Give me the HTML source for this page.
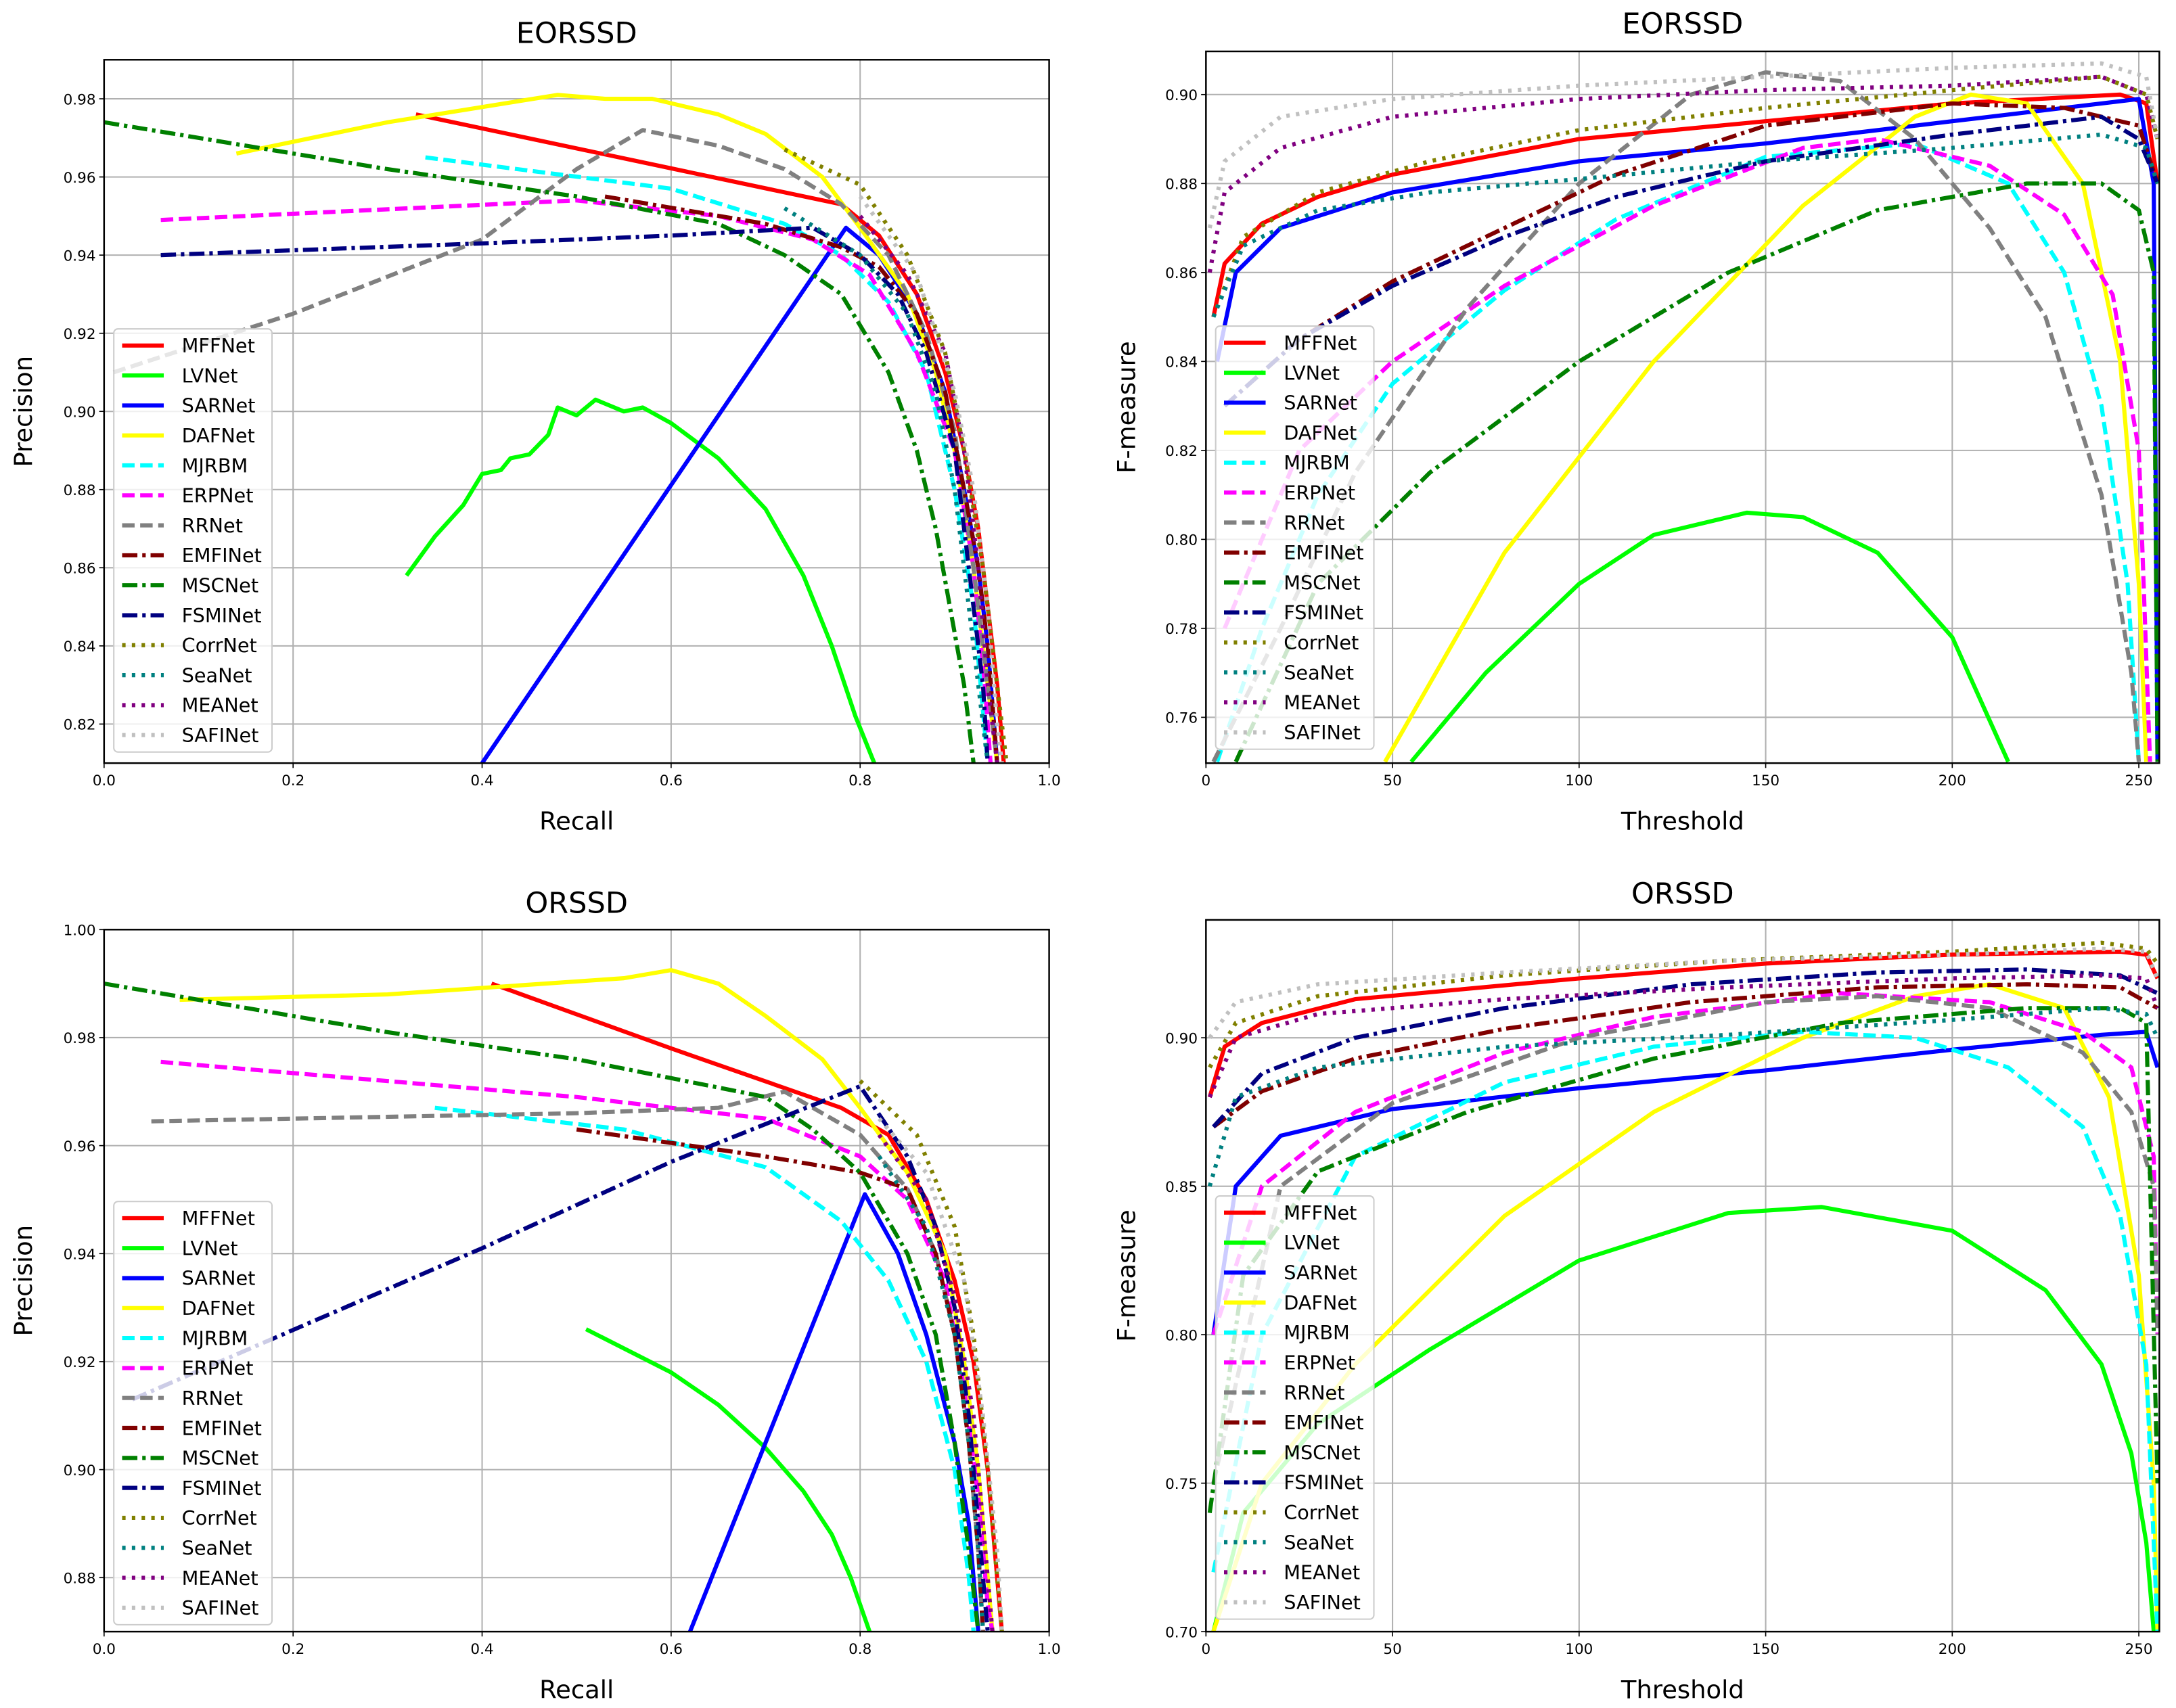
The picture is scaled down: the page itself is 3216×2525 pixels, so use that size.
<!DOCTYPE html>
<html><head><meta charset="utf-8"><style>
html,body{margin:0;padding:0;background:#fff;}
svg{display:block;}
text{font-family:"DejaVu Sans","Liberation Sans",sans-serif;}
</style></head><body>
<svg id="fig" width="3216" height="2525" viewBox="0 0 1568 1231" xmlns="http://www.w3.org/2000/svg">
<rect width="1568" height="1231" fill="#fff"/>
</svg>
<script>
const seriesNames = ["MFFNet","LVNet","SARNet","DAFNet","MJRBM","ERPNet","RRNet","EMFINet","MSCNet","FSMINet","CorrNet","SeaNet","MEANet","SAFINet"];
const seriesColors = ["#ff0000","#00ff00","#0000ff","#ffff00","#00ffff","#ff00ff","#808080","#800000","#008000","#000080","#808000","#008080","#800080","#c0c0c0"];
const seriesStyles = ["solid","solid","solid","solid","dash","dash","dash","dashdot","dashdot","dashdot","dot","dot","dot","dot"];

// Panel 1: EORSSD PR curves [recall, precision]
const prEORSSD = [
 [[0.33,0.976],[0.78,0.953],[0.82,0.945],[0.86,0.93],[0.89,0.91],[0.91,0.89],[0.925,0.87],[0.935,0.85],[0.945,0.83],[0.952,0.81]],
 [[0.32,0.858],[0.35,0.868],[0.38,0.876],[0.40,0.884],[0.42,0.885],[0.43,0.888],[0.45,0.889],[0.47,0.894],[0.48,0.901],[0.50,0.899],[0.52,0.903],[0.53,0.902],[0.55,0.900],[0.57,0.901],[0.60,0.897],[0.65,0.888],[0.70,0.875],[0.74,0.858],[0.77,0.840],[0.795,0.822],[0.815,0.81]],
 [[0.40,0.81],[0.785,0.947],[0.82,0.94],[0.86,0.925],[0.89,0.905],[0.91,0.88],[0.925,0.86],[0.935,0.84],[0.945,0.81]],
 [[0.14,0.966],[0.30,0.974],[0.48,0.981],[0.53,0.980],[0.58,0.980],[0.65,0.976],[0.70,0.971],[0.76,0.960],[0.80,0.947],[0.85,0.93],[0.88,0.91],[0.90,0.89],[0.92,0.86],[0.935,0.83],[0.945,0.81]],
 [[0.34,0.965],[0.60,0.957],[0.72,0.948],[0.78,0.94],[0.83,0.928],[0.87,0.91],[0.90,0.88],[0.92,0.85],[0.935,0.81]],
 [[0.06,0.949],[0.50,0.954],[0.65,0.950],[0.75,0.944],[0.81,0.935],[0.86,0.915],[0.90,0.89],[0.92,0.86],[0.932,0.83],[0.938,0.81]],
 [[0.01,0.91],[0.20,0.925],[0.40,0.944],[0.50,0.962],[0.57,0.972],[0.65,0.968],[0.72,0.962],[0.78,0.953],[0.83,0.94],[0.87,0.92],[0.90,0.895],[0.92,0.86],[0.935,0.83],[0.945,0.81]],
 [[0.53,0.955],[0.70,0.948],[0.78,0.942],[0.82,0.937],[0.86,0.925],[0.89,0.905],[0.91,0.88],[0.925,0.86],[0.935,0.84],[0.945,0.81]],
 [[0.0,0.974],[0.30,0.962],[0.50,0.955],[0.65,0.948],[0.72,0.940],[0.78,0.930],[0.83,0.91],[0.86,0.89],[0.88,0.87],[0.895,0.85],[0.91,0.83],[0.92,0.81]],
 [[0.06,0.940],[0.40,0.943],[0.60,0.945],[0.75,0.947],[0.80,0.94],[0.84,0.93],[0.87,0.915],[0.90,0.89],[0.915,0.86],[0.93,0.83],[0.935,0.81]],
 [[0.72,0.967],[0.80,0.958],[0.85,0.94],[0.89,0.915],[0.91,0.89],[0.93,0.86],[0.945,0.83],[0.955,0.81]],
 [[0.72,0.952],[0.80,0.94],[0.85,0.925],[0.88,0.905],[0.90,0.88],[0.915,0.85],[0.925,0.83],[0.935,0.81]],
 [[0.80,0.95],[0.85,0.935],[0.89,0.915],[0.91,0.89],[0.925,0.86],[0.935,0.83],[0.945,0.81]],
 [[0.80,0.955],[0.86,0.935],[0.90,0.905],[0.92,0.88],[0.935,0.85],[0.945,0.82],[0.95,0.81]]
];
// Panel 2: EORSSD F-measure vs threshold
const fmEORSSD = [
 [[2,0.85],[5,0.862],[15,0.871],[30,0.877],[50,0.882],[100,0.89],[150,0.894],[200,0.898],[245,0.900],[252,0.898],[255,0.88]],
 [[55,0.75],[75,0.77],[100,0.79],[120,0.801],[145,0.806],[160,0.805],[180,0.797],[200,0.778],[215,0.75]],
 [[3,0.84],[8,0.86],[20,0.870],[50,0.878],[100,0.885],[150,0.889],[200,0.894],[240,0.898],[250,0.899],[254,0.88],[255,0.75]],
 [[48,0.75],[80,0.797],[120,0.84],[160,0.875],[190,0.895],[205,0.90],[220,0.898],[235,0.88],[245,0.84],[250,0.79],[252,0.75]],
 [[3,0.75],[15,0.78],[30,0.81],[50,0.835],[80,0.856],[110,0.872],[150,0.886],[190,0.889],[215,0.88],[230,0.86],[240,0.83],[247,0.79],[250,0.75]],
 [[5,0.78],[25,0.82],[50,0.84],[80,0.857],[120,0.875],[160,0.888],[180,0.89],[210,0.884],[230,0.873],[243,0.855],[250,0.82],[253,0.75]],
 [[2,0.75],[20,0.78],[40,0.815],[70,0.852],[100,0.88],[130,0.90],[150,0.905],[170,0.903],[190,0.89],[210,0.87],[225,0.85],[240,0.81],[248,0.77],[250,0.75]],
 [[5,0.83],[25,0.845],[50,0.858],[80,0.87],[110,0.882],[150,0.893],[200,0.898],[230,0.897],[250,0.893],[255,0.88]],
 [[8,0.75],[30,0.79],[60,0.815],[100,0.84],[140,0.86],[180,0.874],[220,0.88],[240,0.88],[250,0.874],[254,0.86],[255,0.75]],
 [[5,0.83],[25,0.845],[50,0.857],[80,0.868],[110,0.877],[150,0.885],[200,0.891],[240,0.895],[250,0.89],[255,0.88]],
 [[2,0.85],[10,0.868],[30,0.878],[60,0.885],[100,0.892],[150,0.897],[200,0.901],[240,0.904],[252,0.90],[255,0.89]],
 [[2,0.85],[10,0.866],[30,0.874],[60,0.878],[100,0.881],[150,0.885],[200,0.888],[240,0.891],[252,0.888],[255,0.88]],
 [[1,0.86],[5,0.878],[20,0.888],[50,0.895],[100,0.899],[150,0.901],[200,0.902],[240,0.904],[252,0.90],[255,0.89]],
 [[1,0.87],[5,0.885],[20,0.895],[50,0.899],[100,0.902],[150,0.904],[200,0.906],[240,0.907],[252,0.904],[255,0.89]]
];
// Panel 3: ORSSD PR curves
const prORSSD = [
 [[0.41,0.990],[0.60,0.978],[0.78,0.967],[0.83,0.962],[0.87,0.95],[0.90,0.935],[0.92,0.92],[0.935,0.90],[0.945,0.88],[0.95,0.87]],
 [[0.51,0.926],[0.60,0.918],[0.65,0.912],[0.70,0.904],[0.74,0.896],[0.77,0.888],[0.79,0.88],[0.81,0.87]],
 [[0.62,0.87],[0.805,0.951],[0.84,0.94],[0.87,0.925],[0.90,0.905],[0.915,0.89],[0.925,0.87]],
 [[0.08,0.987],[0.30,0.988],[0.55,0.991],[0.60,0.9925],[0.65,0.990],[0.70,0.984],[0.76,0.976],[0.80,0.967],[0.85,0.955],[0.89,0.94],[0.91,0.92],[0.925,0.90],[0.935,0.88],[0.94,0.87]],
 [[0.35,0.967],[0.55,0.963],[0.70,0.956],[0.78,0.946],[0.83,0.935],[0.87,0.92],[0.90,0.90],[0.915,0.88],[0.92,0.87]],
 [[0.06,0.9755],[0.50,0.969],[0.70,0.965],[0.80,0.958],[0.85,0.95],[0.89,0.935],[0.91,0.915],[0.925,0.895],[0.935,0.875],[0.94,0.87]],
 [[0.05,0.9645],[0.50,0.966],[0.65,0.967],[0.72,0.970],[0.80,0.962],[0.85,0.952],[0.88,0.94],[0.90,0.925],[0.915,0.905],[0.925,0.885],[0.93,0.87]],
 [[0.50,0.963],[0.70,0.958],[0.80,0.955],[0.85,0.952],[0.88,0.94],[0.90,0.925],[0.915,0.905],[0.925,0.885],[0.93,0.87]],
 [[0.0,0.990],[0.30,0.981],[0.50,0.976],[0.70,0.969],[0.75,0.963],[0.80,0.955],[0.85,0.94],[0.88,0.925],[0.90,0.905],[0.915,0.885],[0.925,0.87]],
 [[0.03,0.913],[0.40,0.941],[0.60,0.957],[0.80,0.971],[0.85,0.958],[0.88,0.945],[0.90,0.93],[0.915,0.91],[0.925,0.89],[0.935,0.87]],
 [[0.80,0.972],[0.86,0.962],[0.90,0.945],[0.92,0.925],[0.935,0.90],[0.945,0.88],[0.95,0.87]],
 [[0.82,0.958],[0.87,0.945],[0.90,0.925],[0.915,0.905],[0.925,0.885],[0.93,0.87]],
 [[0.82,0.962],[0.87,0.95],[0.90,0.932],[0.92,0.91],[0.93,0.89],[0.94,0.87]],
 [[0.82,0.965],[0.87,0.955],[0.91,0.935],[0.93,0.91],[0.945,0.885],[0.95,0.87]]
];
// Panel 4: ORSSD F-measure vs threshold
const fmORSSD = [
 [[1,0.88],[5,0.897],[15,0.905],[40,0.913],[100,0.92],[150,0.925],[200,0.928],[245,0.929],[252,0.928],[255,0.92]],
 [[2,0.70],[10,0.74],[30,0.77],[60,0.795],[100,0.825],[140,0.841],[165,0.843],[200,0.835],[225,0.815],[240,0.79],[248,0.76],[252,0.73],[254,0.70]],
 [[2,0.80],[8,0.85],[20,0.867],[50,0.876],[100,0.883],[150,0.889],[200,0.896],[240,0.901],[252,0.902],[255,0.89]],
 [[2,0.70],[15,0.75],[40,0.79],[80,0.84],[120,0.875],[160,0.90],[190,0.914],[210,0.918],[230,0.91],[242,0.88],[250,0.82],[254,0.75],[255,0.70]],
 [[2,0.72],[15,0.80],[40,0.86],[80,0.885],[120,0.897],[160,0.902],[190,0.90],[215,0.89],[235,0.87],[245,0.84],[252,0.79],[255,0.70]],
 [[2,0.80],[15,0.85],[40,0.875],[80,0.895],[120,0.907],[170,0.915],[210,0.912],[235,0.902],[248,0.89],[254,0.86],[255,0.80]],
 [[2,0.75],[20,0.85],[50,0.878],[100,0.90],[150,0.912],[180,0.914],[210,0.91],[235,0.895],[248,0.875],[254,0.85],[255,0.80]],
 [[2,0.87],[15,0.882],[40,0.893],[80,0.903],[130,0.912],[180,0.917],[220,0.918],[245,0.917],[255,0.91]],
 [[1,0.74],[10,0.82],[30,0.855],[70,0.875],[120,0.893],[170,0.905],[220,0.91],[245,0.91],[252,0.905],[255,0.75]],
 [[2,0.87],[15,0.888],[40,0.90],[80,0.91],[130,0.918],[180,0.922],[220,0.923],[245,0.921],[255,0.915]],
 [[1,0.89],[8,0.905],[30,0.914],[80,0.921],[140,0.926],[200,0.929],[240,0.932],[252,0.93],[255,0.925]],
 [[1,0.85],[8,0.88],[30,0.89],[80,0.897],[140,0.901],[200,0.906],[240,0.91],[252,0.908],[255,0.90]],
 [[1,0.88],[8,0.90],[30,0.908],[80,0.913],[140,0.917],[200,0.92],[240,0.921],[252,0.92],[255,0.91]],
 [[1,0.90],[8,0.912],[30,0.918],[80,0.922],[140,0.926],[200,0.928],[240,0.93],[252,0.929],[255,0.92]]
];
const prXTicks = ["0.0","0.2","0.4","0.6","0.8","1.0"];
const eorPrYTicks = ["0.82","0.84","0.86","0.88","0.90","0.92","0.94","0.96","0.98"];
const orPrYTicks = ["0.88","0.90","0.92","0.94","0.96","0.98","1.00"];
const fmXTicks = ["0","50","100","150","200","250"];
const eorFmYTicks = ["0.76","0.78","0.80","0.82","0.84","0.86","0.88","0.90"];
const orFmYTicks = ["0.70","0.75","0.80","0.85","0.90"];

const NS="http://www.w3.org/2000/svg";
const fig=document.getElementById('fig');
function mk(tag,attrs,parent){const e=document.createElementNS(NS,tag);for(const k in attrs)e.setAttribute(k,attrs[k]);(parent||fig).appendChild(e);return e;}
const dashes={solid:null,dash:"9,4",dashdot:"11,3.5,2.5,3.5",dot:"2.5,4.5"};

function panel(id,box,xd,yd,xt,yt,data,title,titleY,xlab,ylab,ylabX,legY){
  const g=mk('g',{});
  
  
  const sx=v=>box.x0+(v-xd[0])/(xd[1]-xd[0])*(box.x1-box.x0);
  const sy=v=>box.y1-(v-yd[0])/(yd[1]-yd[0])*(box.y1-box.y0);
  const clipId='clip-'+id;
  const cp=mk('clipPath',{id:clipId},g);mk('rect',{x:box.x0,y:box.y0,width:box.x1-box.x0,height:box.y1-box.y0},cp);
  // grid + ticks
  xt.forEach(t=>{const x=sx(parseFloat(t));
    const l=mk('line',{x1:x,x2:x,y1:box.y0,y2:box.y1,stroke:'#b0b0b0','stroke-width':1},g);
    
    mk('line',{x1:x,x2:x,y1:box.y1,y2:box.y1+3.5,stroke:'#000','stroke-width':0.8},g);
    const tx=mk('text',{x:x,y:box.y1+16,'font-size':10.5,'text-anchor':'middle',fill:'#000'},g);tx.textContent=t;
    });
  yt.forEach(t=>{const y=sy(parseFloat(t));
    const l=mk('line',{x1:box.x0,x2:box.x1,y1:y,y2:y,stroke:'#b0b0b0','stroke-width':1},g);
    
    mk('line',{x1:box.x0-3.5,x2:box.x0,y1:y,y2:y,stroke:'#000','stroke-width':0.8},g);
    const tx=mk('text',{x:box.x0-6,y:y+4,'font-size':10.5,'text-anchor':'end',fill:'#000'},g);tx.textContent=t;
    });
  // series
  const sg=mk('g',{'clip-path':'url(#'+clipId+')'},g);
  data.forEach((pts,i)=>{
    const d=pts.map((p,j)=>(j?'L':'M')+sx(p[0]).toFixed(2)+','+sy(p[1]).toFixed(2)).join(' ');
    const a={d:d,fill:'none',stroke:seriesColors[i],'stroke-width':3,'stroke-linejoin':'round'};
    if(dashes[seriesStyles[i]])a['stroke-dasharray']=dashes[seriesStyles[i]];
    const p=mk('path',a,sg);
    
    
  });
  mk('rect',{x:box.x0,y:box.y0,width:box.x1-box.x0,height:box.y1-box.y0,fill:'none',stroke:'#000','stroke-width':1.2},g);
  const tt=mk('text',{x:(box.x0+box.x1)/2,y:titleY,'font-size':21,'text-anchor':'middle',fill:'#000'},g);tt.textContent=title;
  
  const xl=mk('text',{x:(box.x0+box.x1)/2,y:box.y1+48,'font-size':18,'text-anchor':'middle',fill:'#000'},g);xl.textContent=xlab;
  
  const cy=(box.y0+box.y1)/2;
  const yl=mk('text',{x:ylabX,y:cy,'font-size':18,'text-anchor':'middle',fill:'#000',transform:'rotate(-90 '+ylabX+' '+cy+')'},g);yl.textContent=ylab;
  
  // legend
  const lg=mk('g',{},g);
  
  const lx=box.x0+7;
  mk('rect',{x:lx,y:legY,width:114,height:305,fill:'#fff','fill-opacity':0.8,stroke:'#ccc','stroke-width':1,rx:3},lg);
  seriesNames.forEach((n,i)=>{
    const y=legY+12+i*21.6;
    const la={x1:lx+6,x2:lx+36,y1:y,y2:y,stroke:seriesColors[i],'stroke-width':3};
    if(dashes[seriesStyles[i]])la['stroke-dasharray']=dashes[seriesStyles[i]];
    const ln=mk('line',la,lg);
    
    const tx=mk('text',{x:lx+49,y:y+5,'font-size':14,fill:'#000'},lg);tx.textContent=n;
    
  });
}
panel('pr-eorssd',{x0:75,x1:756,y0:43,y1:550},[0,1],[0.81,0.99],prXTicks,eorPrYTicks,prEORSSD,'EORSSD',31,'Recall','Precision',23,237);
panel('fm-eorssd',{x0:869,x1:1556,y0:37,y1:550},[0,255.5],[0.7497,0.9097],fmXTicks,eorFmYTicks,fmEORSSD,'EORSSD',24,'Threshold','F-measure',818,235);
panel('pr-orssd',{x0:75,x1:756,y0:670,y1:1176},[0,1],[0.87,1.0],prXTicks,orPrYTicks,prORSSD,'ORSSD',658,'Recall','Precision',23,866);
panel('fm-orssd',{x0:869,x1:1556,y0:663,y1:1176},[0,255.5],[0.70,0.9397],fmXTicks,orFmYTicks,fmORSSD,'ORSSD',651,'Threshold','F-measure',818,862);
</script>
</body></html>
